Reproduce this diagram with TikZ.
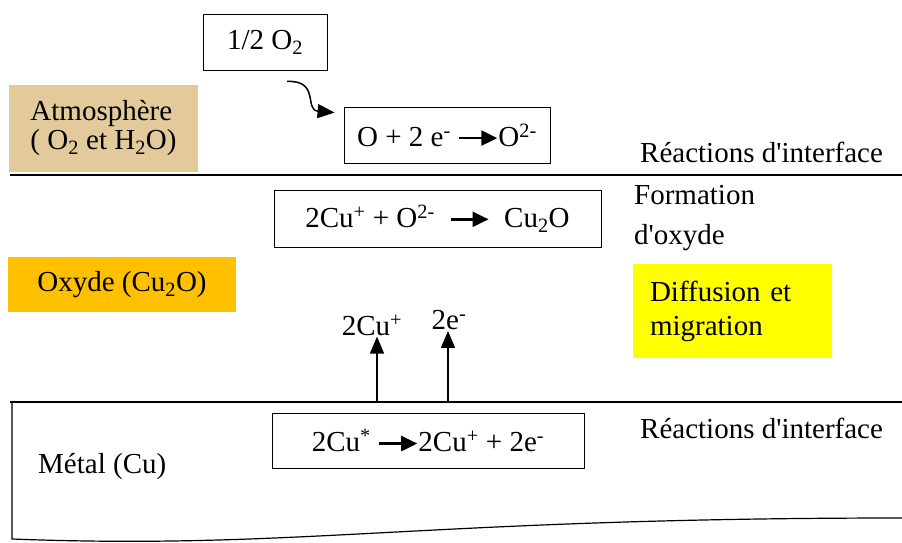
\documentclass[tikz,border=0pt]{standalone}
\usepackage{fontspec}
\setmainfont{Liberation Serif}
\usetikzlibrary{positioning, arrows.meta, calc}

\definecolor{papyrus}{RGB}{226,202,155}
\definecolor{oxydeorange}{RGB}{255,192,0}
\definecolor{diffyellow}{RGB}{255,255,0}

% reaction arrow inside the boxed equations
\newcommand{\rxarrow}{\tikz[baseline=-0.6ex]\draw[-{Triangle[length=16pt,width=15pt]}, line width=2.4pt] (0,0) -- (38pt,0);}

\begin{document}
\begin{tikzpicture}[
    x=1pt, y=-1pt,
    font=\fontsize{29}{33}\selectfont,
    reaction/.style={
        rectangle, draw=black, line width=0.9pt, fill=white,
        align=center, inner sep=0pt
    },
    layer/.style={
        rectangle, draw=none, align=left, inner sep=0pt
    },
    sidelabel/.style={
        anchor=west, align=left, inner sep=0pt
    },
    interface/.style={line width=2.8pt},
    arr/.style={-{Triangle[length=17pt,width=14pt]}, line width=1.5pt}
]
\useasboundingbox (0,0) rectangle (902,543);

% ---------------- Atmosphere ----------------
\node[layer, fill=papyrus, minimum width=189pt, minimum height=87pt] (atmos) at (103.5,128.5) {Atmosphère\\[-4pt]( O\textsubscript{2} et H\textsubscript{2}O)};
\node[reaction, minimum width=124pt, minimum height=56pt] (half) at (265,42) {1/2 O\textsubscript{2}};
\node[reaction, minimum width=206pt, minimum height=56pt] (reac1) at (447,135) {O + 2 e\textsuperscript{-} \rxarrow O\textsuperscript{2-}};
\node[sidelabel] (ifaceTop) at (640,152) {Réactions d\textquotesingle interface};

\draw[interface] (10,175) -- (902,175);

% ---------------- Oxide ----------------
\node[reaction, minimum width=327pt, minimum height=57pt] (reac2) at (437.5,218.5) {2Cu\textsuperscript{+} + O\textsuperscript{2-} \ \rxarrow\ \ Cu\textsubscript{2}O};
\node[sidelabel] (formation) at (634,218) {Formation\\[7pt]d\textquotesingle oxyde};
\node[layer, fill=oxydeorange, minimum width=228pt, minimum height=55pt] (oxyde) at (122,284.5) {Oxyde (Cu\textsubscript{2}O)};
\node[layer, fill=diffyellow, minimum width=199pt, minimum height=94pt, text width=165pt] (diffusion) at (732.5,311) {Diffusion et\\[1pt]migration};

\node[inner sep=1pt] (cuLabel) at (372,325) {2Cu\textsuperscript{+}};
\node[inner sep=1pt] (eLabel) at (449,320) {2e\textsuperscript{-}};

\draw[interface] (10,402) -- (902,402);

% ---------------- Metal ----------------
\node[reaction, minimum width=312pt, minimum height=55pt] (reac3) at (428,440.5) {2Cu\textsuperscript{*} \rxarrow 2Cu\textsuperscript{+} + 2e\textsuperscript{-}};
\node[sidelabel] (ifaceBot) at (640,428) {Réactions d\textquotesingle interface};
\node[sidelabel] (metal) at (38,466) {Métal (Cu)};

\draw[line width=1.2pt] (12,402) -- (12,539) .. controls (300,550) and (420,518) .. (902,518);

% ---------------- Arrows ----------------
\coordinate (tailO) at ($(half.south)+(22,11)$);
\coordinate (tipO) at ($(reac1.north west)+(-9,6)$);
\draw[arr] (tailO) .. controls (320,80) and (304,110) .. (tipO);

\coordinate (cuBase) at (377,402);
\coordinate (eBase) at (448,402);
\draw[arr] (cuBase) -- (cuBase |- cuLabel.south);
\draw[arr] (eBase) -- (eBase |- eLabel.south);

\end{tikzpicture}
\end{document}
